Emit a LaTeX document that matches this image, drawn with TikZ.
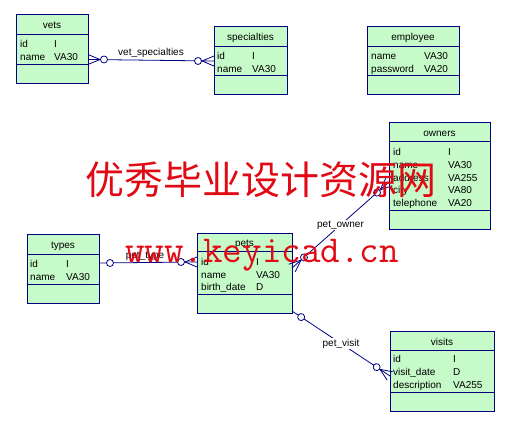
\documentclass[tikz,border=0pt]{standalone}
\usepackage{fontspec}
\setmainfont{Liberation Sans}
\newfontfamily\wmcjk{Noto Sans CJK SC}
\definecolor{ernavy}{RGB}{0,0,128}
\definecolor{ergreen}{RGB}{198,250,200}
\definecolor{wmred}{RGB}{225,10,20}
\newcommand\erfont{\fontsize{10}{12}\selectfont}
\tikzset{
  tbl/.style={draw=ernavy, fill=ergreen, line width=1pt, inner sep=0pt, outer sep=0pt, anchor=north west},
  sep/.style={draw=ernavy, line width=1pt},
  head/.style={anchor=base, inner sep=0pt, font=\erfont},
  attr/.style={anchor=base west, inner sep=0pt, font=\erfont},
  rel/.style={draw=ernavy, line width=0.8pt},
  lbl/.style={inner sep=1pt, font=\erfont},
  crowfoot/.pic={
    \draw[rel] (0,5) -- (12,0) -- (0,-5);
    \draw[rel, fill=white] (16,0) circle[radius=3.5pt];
  },
  ringend/.pic={
    \draw[rel, fill=white] (11,0) circle[radius=3.5pt];
  }
}

\begin{document}
\begin{tikzpicture}[x=1pt,y=-1pt]
  \useasboundingbox (0,0) rectangle (520,427);
  % entities
  \node[tbl, minimum width=72pt, minimum height=69pt] (vets) at (16,15) {};
  \draw[sep] (16,35) -- (88,35) (16,65) -- (88,65);
  \node[head] (vets-h) at (52,29) {vets};
  \node[attr] (vets-a1) at (20,48) {id};
  \node[attr] (vets-t1) at (54,48) {I};
  \node[attr] (vets-a2) at (20,61) {name};
  \node[attr] (vets-t2) at (54,61) {VA30};

  \node[tbl, minimum width=73pt, minimum height=68pt] (specialties) at (214,27) {};
  \draw[sep] (214,47) -- (287,47) (214,76) -- (287,76);
  \node[head] (spec-h) at (250.5,41) {specialties};
  \node[attr] (spec-a1) at (217,60) {id};
  \node[attr] (spec-t1) at (252,60) {I};
  \node[attr] (spec-a2) at (217,73) {name};
  \node[attr] (spec-t2) at (252,73) {VA30};

  \node[tbl, minimum width=92pt, minimum height=68pt] (employee) at (367,27) {};
  \draw[sep] (367,47) -- (459,47) (367,76) -- (459,76);
  \node[head] (emp-h) at (413,41) {employee};
  \node[attr] (emp-a1) at (371,60) {name};
  \node[attr] (emp-t1) at (424,60) {VA30};
  \node[attr] (emp-a2) at (371,73) {password};
  \node[attr] (emp-t2) at (424,73) {VA20};

  \node[tbl, minimum width=101pt, minimum height=107pt] (owners) at (389,123) {};
  \draw[sep] (389,142) -- (490,142) (389,211) -- (490,211);
  \node[head] (own-h) at (439.5,136.5) {owners};
  \node[attr] (own-a1) at (393,155.5) {id};
  \node[attr] (own-t1) at (448,155.5) {I};
  \node[attr] (own-a2) at (393,168.3) {name};
  \node[attr] (own-t2) at (448,168.3) {VA30};
  \node[attr] (own-a3) at (393,181.1) {address};
  \node[attr] (own-t3) at (448,181.1) {VA255};
  \node[attr] (own-a4) at (393,193.9) {city};
  \node[attr] (own-t4) at (448,193.9) {VA80};
  \node[attr] (own-a5) at (393,206.7) {telephone};
  \node[attr] (own-t5) at (448,206.7) {VA20};

  \node[tbl, minimum width=72pt, minimum height=69pt] (types) at (27,235) {};
  \draw[sep] (27,255) -- (99,255) (27,285) -- (99,285);
  \node[head] (types-h) at (63,249) {types};
  \node[attr] (types-a1) at (30,268) {id};
  \node[attr] (types-t1) at (66,268) {I};
  \node[attr] (types-a2) at (30,281) {name};
  \node[attr] (types-t2) at (66,281) {VA30};

  \node[tbl, minimum width=95pt, minimum height=80pt] (pets) at (197,234) {};
  \draw[sep] (197,252) -- (292,252) (197,295) -- (292,295);
  \node[head] (pets-h) at (244.5,247) {pets};
  \node[attr] (pets-a1) at (201,266) {id};
  \node[attr] (pets-t1) at (256,266) {I};
  \node[attr] (pets-a2) at (201,278.5) {name};
  \node[attr] (pets-t2) at (256,278.5) {VA30};
  \node[attr] (pets-a3) at (201,291) {birth\_date};
  \node[attr] (pets-t3) at (256,291) {D};

  \node[tbl, minimum width=104pt, minimum height=80pt] (visits) at (390,332) {};
  \draw[sep] (390,351) -- (494,351) (390,393) -- (494,393);
  \node[head] (vis-h) at (442,345.5) {visits};
  \node[attr] (vis-a1) at (393,363) {id};
  \node[attr] (vis-t1) at (453,363) {I};
  \node[attr] (vis-a2) at (393,376) {visit\_date};
  \node[attr] (vis-t2) at (453,376) {D};
  \node[attr] (vis-a3) at (393,389) {description};
  \node[attr] (vis-t3) at (453,389) {VA255};

  % relationships
  \draw[rel] ([yshift=-10pt]vets.east) -- node[lbl, above=1pt] (vs-l) {vet\_specialties} (specialties.west);
  \pic at ([yshift=-10pt]vets.east) {crowfoot};
  \pic[rotate=180] at (specialties.west) {crowfoot};

  \draw[rel] ([yshift=6.5pt]types.east) -- node[lbl, pos=0.47, yshift=6pt] (pt-l) {pet\_type} ([yshift=12pt]pets.west);
  \pic at ([yshift=6.5pt]types.east) {ringend};
  \pic[rotate=180] at ([yshift=12pt]pets.west) {crowfoot};

  \draw[rel] ([yshift=6pt]pets.east) -- ([yshift=-5.5pt]owners.west);
  \pic[rotate=41.6] at ([yshift=6pt]pets.east) {crowfoot};
  \pic[rotate=221.6] at ([yshift=-5.5pt]owners.west) {crowfoot};
  \path ([yshift=6pt]pets.east) -- node[lbl, fill=white] (po-l) {pet\_owner} ([yshift=-5.5pt]owners.west);

  \draw[rel] ([yshift=-37pt]pets.east) -- ([yshift=-4pt]visits.west);
  \pic[rotate=-33.6] at ([yshift=-37pt]pets.east) {ringend};
  \pic[rotate=146.4] at ([yshift=-4pt]visits.west) {crowfoot};
  \path ([yshift=-37pt]pets.east) -- node[lbl, fill=white] (pv-l) {pet\_visit} ([yshift=-4pt]visits.west);

  % watermark
  \node[text=wmred, inner sep=0pt, font=\wmcjk\fontsize{39}{39}\selectfont] (wm-cn) at (261,180) {优秀毕业设计资源网};
  \node[text=wmred, inner sep=0pt, anchor=base, font=\ttfamily\fontsize{38}{38}\selectfont] (wm-url) at (262,263) {www.keyicad.cn};
\end{tikzpicture}
\end{document}
